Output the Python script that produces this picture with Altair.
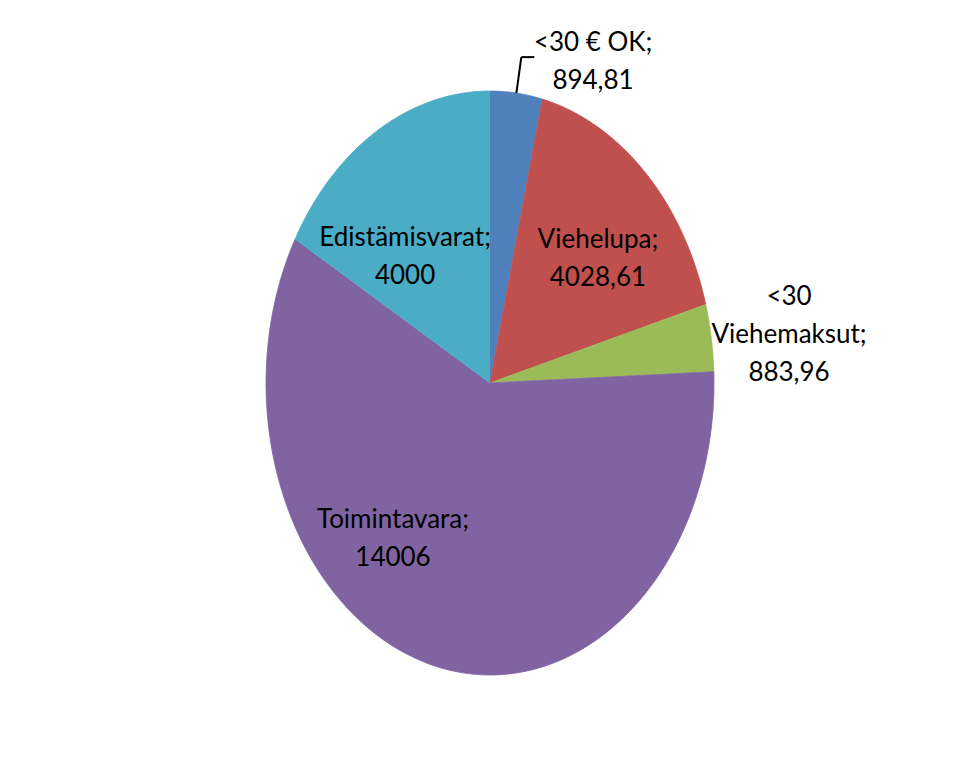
import altair as alt
import pandas as pd

# ---- data ----
CATEGORIES = ["<30 € OK", "Viehelupa", "<30 Viehemaksut", "Toimintavara", "Edistämisvarat"]
VALUES = [894.81, 4028.61, 883.96, 14006, 4000]
COLORS = ["#4F81BD", "#C0504D", "#9BBB59", "#8064A2", "#4BACC6"]

# label wrapping as in the original (Excel wrapped the long name)
NAME_LINES = [["<30 € OK;"], ["Viehelupa;"], ["<30", "Viehemaksut;"], ["Toimintavara;"], ["Edistämisvarat;"]]

# centre of each label's first line, in pie-radius units
LABEL_POS = {
    "<30 € OK": (0.46, 1.164),
    "Viehelupa": (0.482, 0.490),
    "<30 Viehemaksut": (1.335, 0.295),
    "Toimintavara": (-0.433, -0.469),
    "Edistämisvarat": (-0.379, 0.497),
}


def fmt(v):
    return f"{v:g}".replace(".", ",")


df = pd.DataFrame({
    "category": CATEGORIES,
    "value": VALUES,
    "order": list(range(len(CATEGORIES))),
    "label": ["\n".join(n + [fmt(v)]) for n, v in zip(NAME_LINES, VALUES)],
    "lx": [LABEL_POS[c][0] for c in CATEGORIES],
    "ly": [LABEL_POS[c][1] for c in CATEGORIES],
})

xs = alt.Scale(domain=[-1, 1], range=[258, 706], nice=False, zero=False)
ys = alt.Scale(domain=[-1, 1], range=[667, 83], nice=False, zero=False)
cs = alt.Scale(domain=CATEGORIES, range=COLORS)

base = (
    alt.Chart(df)
    .transform_joinaggregate(total="sum(value)")
    .transform_window(cum="sum(value)", sort=[alt.SortField("order")], frame=[None, 0])
    .transform_calculate(
        a0="2*PI*(datum.cum - datum.value)/datum.total",
        a1="2*PI*datum.cum/datum.total",
    )
)

pie = (
    base.transform_calculate(steps="sequence(0, 121)")
    .transform_flatten(["steps"])
    .transform_calculate(t="datum.a0 + (datum.a1 - datum.a0)*(datum.steps - 1)/119")
    .transform_calculate(
        px="datum.steps == 0 ? 0 : sin(datum.t)",
        py="datum.steps == 0 ? 0 : cos(datum.t)",
    )
    .mark_line(strokeWidth=0.8, interpolate="linear")
    .encode(
        x=alt.X("px:Q", scale=xs, axis=None),
        y=alt.Y("py:Q", scale=ys, axis=None),
        order=alt.Order("steps:Q"),
        fill=alt.Fill("category:N", scale=cs, legend=None),
        stroke=alt.Stroke("category:N", scale=cs, legend=None),
        detail="category:N",
    )
)

text = alt.Chart(df).mark_text(
    font="Lato, sans-serif",
    fontSize=26,
    lineHeight=38,
    align="center",
    baseline="middle",
    color="black",
    lineBreak="\n",
).encode(
    x=alt.X("lx:Q", scale=xs, axis=None),
    y=alt.Y("ly:Q", scale=ys, axis=None),
    text="label:N",
)

leader = base.transform_filter(alt.datum.category == CATEGORIES[0]).transform_calculate(
    mid="(datum.a0 + datum.a1)/2",
).transform_calculate(
    ex="sin(datum.mid)",
    ey="cos(datum.mid)",
).transform_calculate(
    kx="datum.ex + 0.022",
    ky="datum.ey + 0.123",
    kx2="datum.ex + 0.08",
)

r1 = leader.mark_rule(color="black", strokeWidth=2).encode(
    x=alt.X("ex:Q", scale=xs, axis=None),
    y=alt.Y("ey:Q", scale=ys, axis=None),
    x2="kx:Q",
    y2="ky:Q",
)
r2 = leader.mark_rule(color="black", strokeWidth=2).encode(
    x=alt.X("kx:Q", scale=xs, axis=None),
    y=alt.Y("ky:Q", scale=ys, axis=None),
    x2="kx2:Q",
)

chart = (
    alt.layer(pie, text, r1, r2)
    .properties(width=945, height=741, padding=0, autosize="none", background="white")
    .configure_view(strokeWidth=0)
)

chart.save("out.html", embed_options={"renderer": "svg", "actions": False})
